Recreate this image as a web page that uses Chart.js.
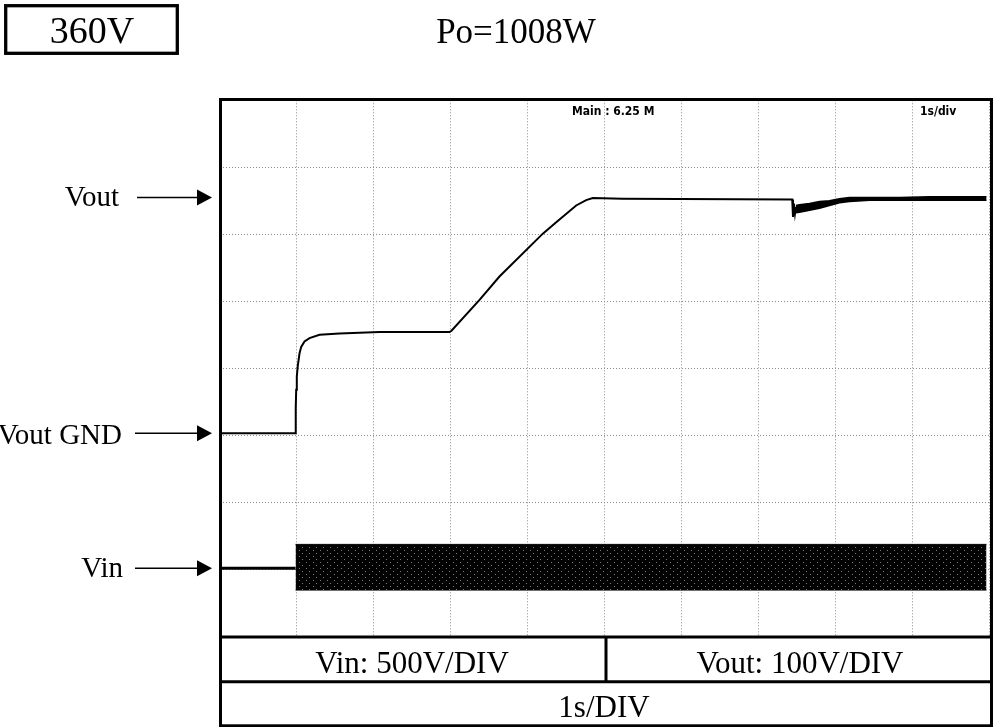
<!DOCTYPE html>
<html>
<head>
<meta charset="utf-8">
<title>360V Po=1008W</title>
<script src="https://cdn.jsdelivr.net/npm/chart.js@4/dist/chart.umd.min.js"></script>
<style>
  html, body { margin: 0; padding: 0; background: #fff; overflow: hidden; }
  canvas { display: block; }
</style>
</head>
<body>
<canvas id="scope" width="994" height="727"></canvas>
<script>
// Time base: 1 s/div, 10 divisions
const timeTicks = [0, 1, 2, 3, 4, 5, 6, 7, 8, 9, 10];

// Vout trace (V, 100 V/div), GND reference at 0 V
const voutT = [0, 0.983, 0.990, 0.996, 1.004, 1.017, 1.039, 1.061, 1.104, 1.169, 1.299, 1.558, 2.078, 2.987,
               3.013, 3.377, 3.636, 4.199, 4.373, 4.632, 4.762, 4.848, 5.234, 7.438, 7.448, 7.461, 7.474, 7.487];
const voutV = [3, 3, 40, 68, 88, 104, 122, 132, 140, 145, 150, 152, 154, 154,
               156, 202, 237, 301, 318, 343, 351, 354, 353, 352, 326, 346, 331, 341];

// Vout ripple envelope after the load step
const voutBandT  = [7.487, 7.532, 7.662, 7.792, 7.922, 8.052, 8.182, 8.442, 8.831, 9.221, 9.610, 9.961];
const voutBandHi = [343, 344, 346, 349, 350, 353, 355, 355, 355, 356, 356, 356];
const voutBandLo = [332, 333, 336, 339, 343, 347, 349, 351, 351, 351, 351, 351];

// Vin trace (V, 500 V/div): idle before switch-on, then the AC envelope
const vinLeadT = [0, 0.987];
const vinLeadV = [8, 8];
const vinBandT  = [0.987, 9.961];
const vinBandHi = [186, 186];
const vinBandLo = [-155, -155];

const pts = (xs, ys) => xs.map((x, i) => ({ x: x, y: ys[i] }));

// dotted fill texture for the dense Vin band
function bandPattern(ctx) {
  const c = document.createElement('canvas');
  c.width = 7; c.height = 6;
  const g = c.getContext('2d');
  g.fillStyle = '#020202';
  g.fillRect(0, 0, 7, 6);
  g.fillStyle = '#7a7a7a';
  g.fillRect(1, 1, 1, 1);
  g.fillRect(5, 4, 1, 1);
  return ctx.createPattern(c, 'repeat');
}

const canvas = document.getElementById('scope');
const ctx0 = canvas.getContext('2d');
const vinFill = bandPattern(ctx0);

// frame, readout table, channel markers and captions
const scopeFrame = {
  id: 'scopeFrame',
  afterDraw(chart) {
    const ctx = chart.ctx;
    const yV = chart.scales.y;
    const yI = chart.scales.yVin;
    ctx.save();
    ctx.strokeStyle = '#000';
    ctx.fillStyle = '#000';

    // outer frame
    ctx.lineWidth = 3;
    ctx.strokeRect(220.5, 99.5, 771, 626.3);
    // readout table
    ctx.beginPath();
    ctx.moveTo(219, 637); ctx.lineTo(993, 637);
    ctx.moveTo(219, 681.7); ctx.lineTo(993, 681.7);
    ctx.moveTo(606, 637); ctx.lineTo(606, 681.7);
    ctx.stroke();

    // header box
    ctx.lineWidth = 3.3;
    ctx.strokeRect(5.7, 5.7, 171.6, 47.6);

    const serif = '"Liberation Serif", "Times New Roman", serif';
    ctx.textBaseline = 'alphabetic';
    ctx.textAlign = 'center';
    ctx.font = '38px ' + serif;
    ctx.fillText('360V', 92, 42.7);
    ctx.font = '35px ' + serif;
    ctx.fillText('Po=1008W', 516, 43);

    ctx.font = '31px ' + serif;
    ctx.fillText('Vin: 500V/DIV', 412, 672.7);
    ctx.fillText('Vout: 100V/DIV', 800, 672.7);
    ctx.fillText('1s/DIV', 604, 716.5);

    // channel markers
    function arrow(x0, x1, y) {
      ctx.lineWidth = 1.6;
      ctx.beginPath();
      ctx.moveTo(x0, y); ctx.lineTo(x1 - 12, y);
      ctx.stroke();
      ctx.beginPath();
      ctx.moveTo(x1 - 15, y - 8);
      ctx.lineTo(x1, y);
      ctx.lineTo(x1 - 15, y + 8);
      ctx.closePath();
      ctx.fill();
    }
    const yOut = yV.getPixelForValue(355);
    const yGnd = yV.getPixelForValue(0);
    const yIn = yI.getPixelForValue(0);
    ctx.font = '29px ' + serif;
    ctx.textAlign = 'right';
    ctx.fillText('Vout', 119, yOut + 8.5);
    ctx.fillText('Vout GND', 122, yGnd + 8.5);
    ctx.fillText('Vin', 123, yIn + 8);
    arrow(137, 212, yOut);
    arrow(135, 212, yGnd - 2);
    arrow(135, 212, yIn - 1);

    // on-screen scope readouts
    ctx.font = 'bold 12px "DejaVu Sans Condensed", "Liberation Sans Narrow", sans-serif';
    ctx.textAlign = 'left';
    ctx.fillText('Main : 6.25 M', 572, 115);
    ctx.fillText('1s/div', 920, 115);
    ctx.restore();
  }
};

const gridStyle = {
  display: true,
  color: '#8c8c8c',
  lineWidth: 1,
  drawTicks: false
};

new Chart(canvas, {
  type: 'line',
  data: {
    datasets: [
      { label: 'Vout', data: pts(voutT, voutV), yAxisID: 'y',
        borderColor: '#000', borderWidth: 2, pointRadius: 0, tension: 0, fill: false },
      { label: 'Vout ripple max', data: pts(voutBandT, voutBandHi), yAxisID: 'y',
        borderColor: '#000', borderWidth: 1.5, pointRadius: 0, tension: 0,
        fill: { target: '+1' }, backgroundColor: '#000' },
      { label: 'Vout ripple min', data: pts(voutBandT, voutBandLo), yAxisID: 'y',
        borderColor: '#000', borderWidth: 1.5, pointRadius: 0, tension: 0, fill: false },
      { label: 'Vin idle', data: pts(vinLeadT, vinLeadV), yAxisID: 'yVin',
        borderColor: '#000', borderWidth: 3, pointRadius: 0, tension: 0, fill: false },
      { label: 'Vin max', data: pts(vinBandT, vinBandHi), yAxisID: 'yVin',
        borderColor: '#000', borderWidth: 1, pointRadius: 0, tension: 0,
        fill: { target: '+1' }, backgroundColor: vinFill },
      { label: 'Vin min', data: pts(vinBandT, vinBandLo), yAxisID: 'yVin',
        borderColor: '#000', borderWidth: 1, pointRadius: 0, tension: 0, fill: false }
    ]
  },
  options: {
    responsive: false,
    animation: false,
    devicePixelRatio: 1,
    layout: { padding: { left: 219.5, right: 4.5, top: 100.3, bottom: 90.7 } },
    plugins: {
      legend: { display: false },
      tooltip: { enabled: false },
      title: { display: false }
    },
    scales: {
      x: {
        type: 'linear', min: timeTicks[0], max: timeTicks[timeTicks.length - 1],
        afterBuildTicks: (s) => { s.ticks = timeTicks.map(v => ({ value: v })); },
        ticks: { display: false },
        grid: gridStyle,
        border: { display: false, dash: [1, 2] }
      },
      y: {
        type: 'linear', min: -300, max: 500,
        ticks: { display: false, stepSize: 100 },
        grid: gridStyle,
        border: { display: false, dash: [1, 2] }
      },
      yVin: {
        type: 'linear', min: -500, max: 3500, display: false
      }
    }
  },
  plugins: [scopeFrame]
});
</script>
</body>
</html>
